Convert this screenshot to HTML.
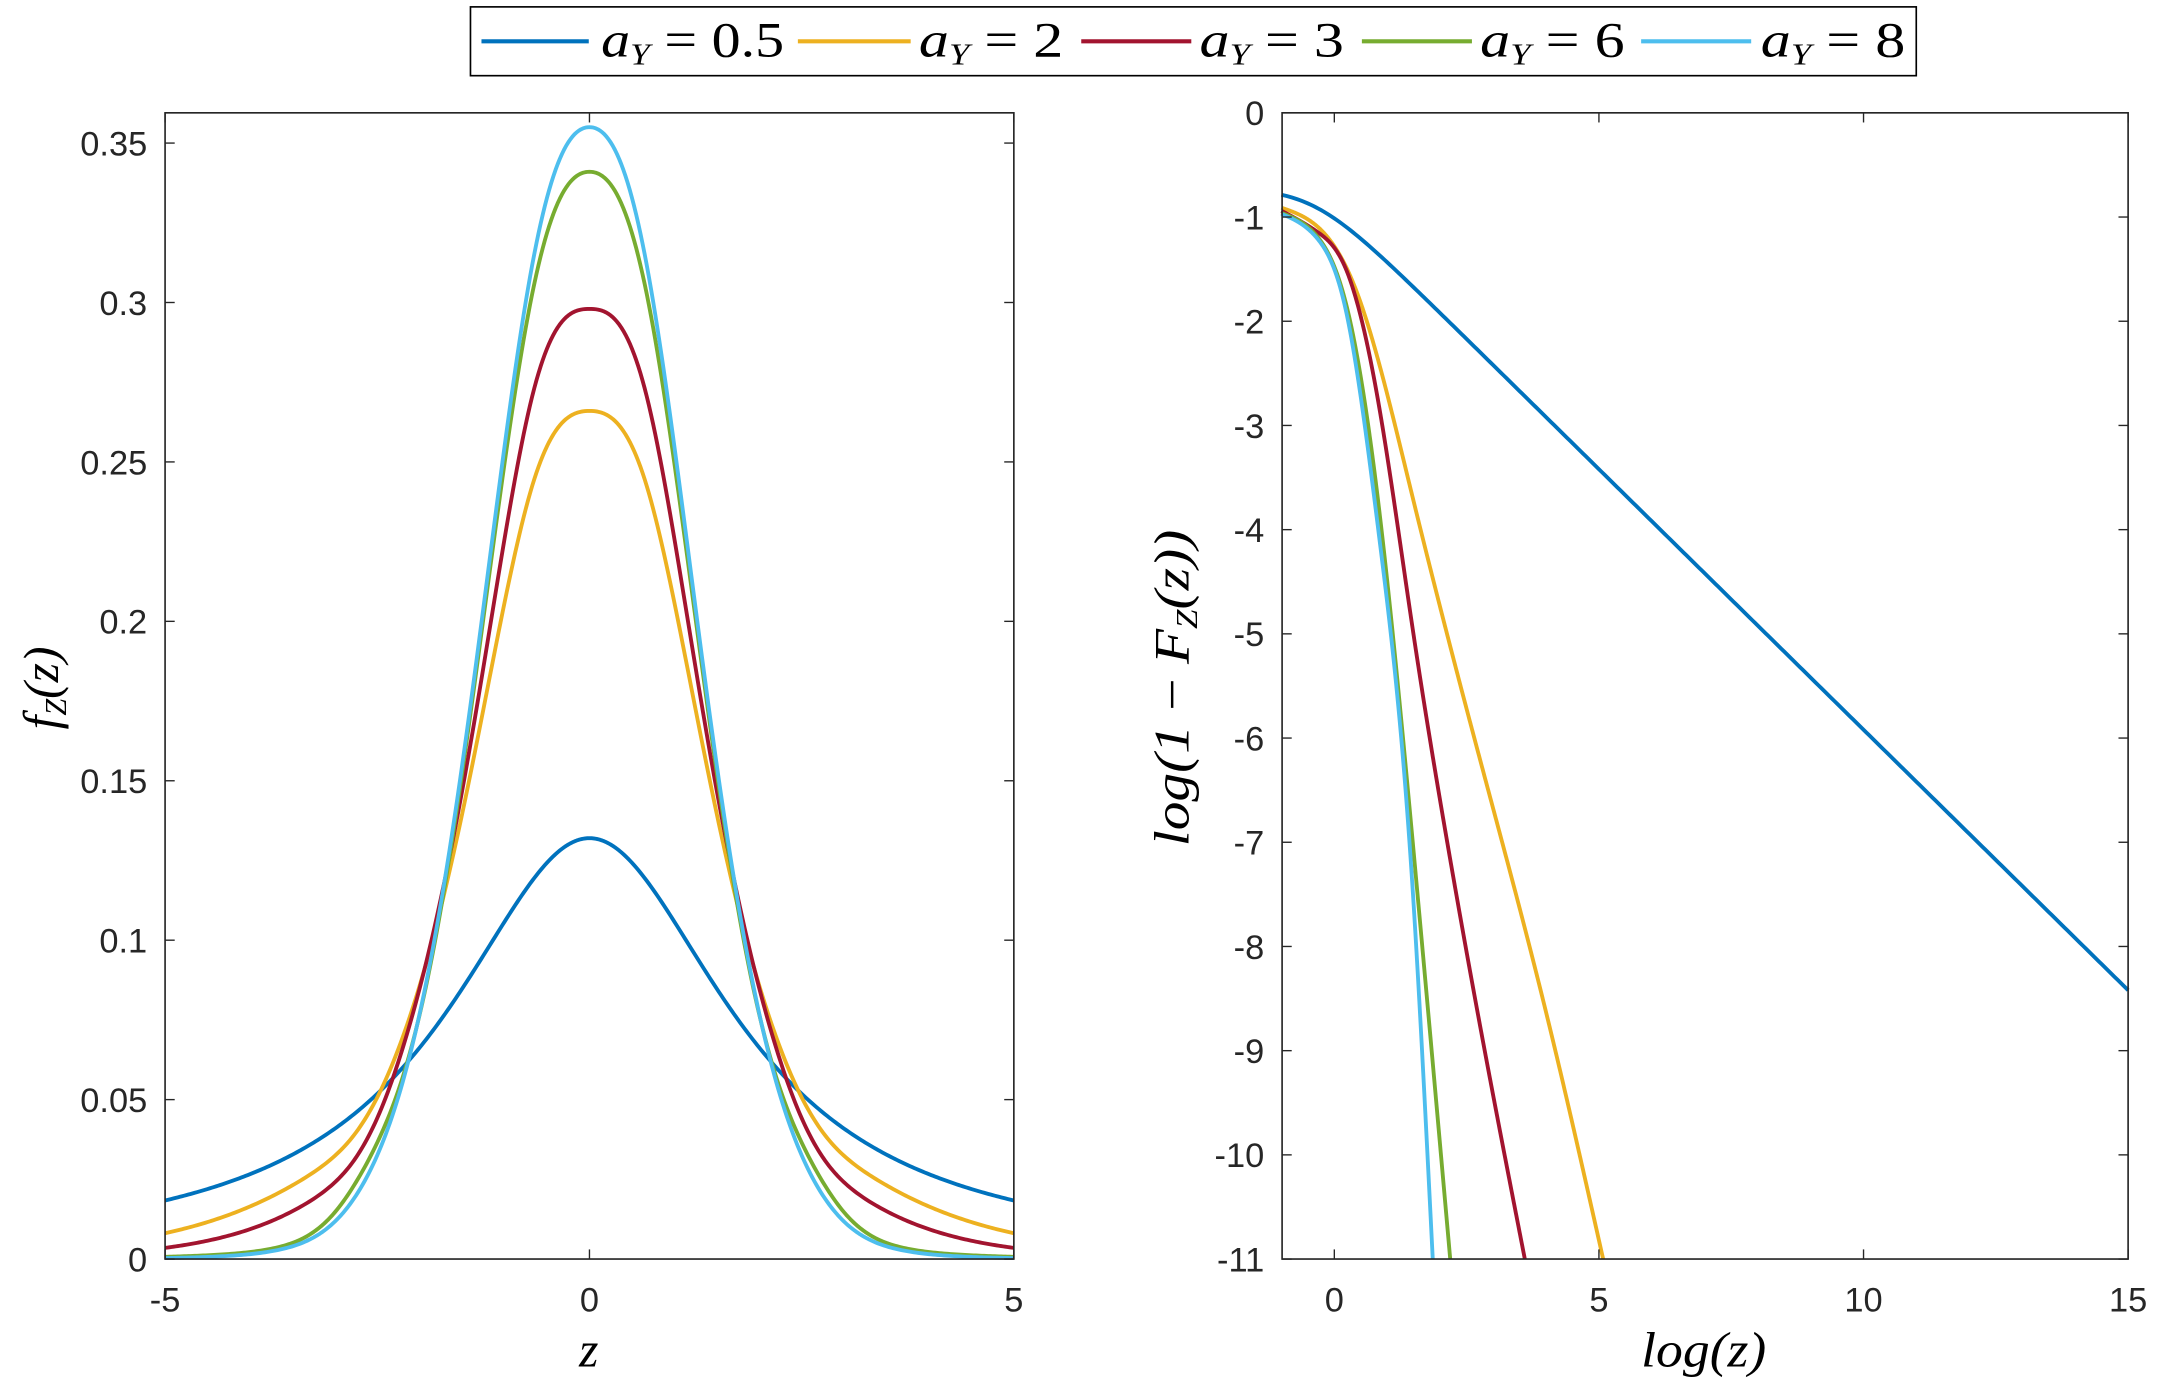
<!DOCTYPE html>
<html><head><meta charset="utf-8"><style>
html,body{margin:0;padding:0;background:#fff;overflow:hidden}
svg{display:block}
.t{font-family:"Liberation Sans",sans-serif;font-size:25px;fill:#262626}
.m{font-family:"Liberation Serif",serif;font-style:italic;font-size:36px;fill:#000}
</style></head><body>
<svg id="s" width="2157" height="1387" viewBox="0 0 1568 1008" preserveAspectRatio="none" xmlns="http://www.w3.org/2000/svg">
<rect width="1568" height="1008" fill="#fff"/>
<g id="g"></g>
<rect x="342" y="5" width="1051" height="50" fill="#fff" stroke="#000" stroke-width="1.2"/>
<line x1="350" y1="30" x2="428" y2="30" stroke="#0072BD" stroke-width="3"/>
<text x="437" y="41" class="m" textLength="133" lengthAdjust="spacingAndGlyphs">a<tspan font-size="22" dy="6">Y</tspan><tspan dy="-6" font-style="normal"> = 0.5</tspan></text>
<line x1="580" y1="30" x2="662" y2="30" stroke="#EDB120" stroke-width="3"/>
<text x="668" y="41" class="m" textLength="105" lengthAdjust="spacingAndGlyphs">a<tspan font-size="22" dy="6">Y</tspan><tspan dy="-6" font-style="normal"> = 2</tspan></text>
<line x1="786" y1="30" x2="866" y2="30" stroke="#A2142F" stroke-width="3"/>
<text x="872" y="41" class="m" textLength="105" lengthAdjust="spacingAndGlyphs">a<tspan font-size="22" dy="6">Y</tspan><tspan dy="-6" font-style="normal"> = 3</tspan></text>
<line x1="990" y1="30" x2="1070" y2="30" stroke="#77AC30" stroke-width="3"/>
<text x="1076" y="41" class="m" textLength="105" lengthAdjust="spacingAndGlyphs">a<tspan font-size="22" dy="6">Y</tspan><tspan dy="-6" font-style="normal"> = 6</tspan></text>
<line x1="1193" y1="30" x2="1273" y2="30" stroke="#4DBEEE" stroke-width="3"/>
<text x="1280" y="41" class="m" textLength="105" lengthAdjust="spacingAndGlyphs">a<tspan font-size="22" dy="6">Y</tspan><tspan dy="-6" font-style="normal"> = 8</tspan></text>
<text x="428" y="993" class="m" text-anchor="middle">z</text>
<text x="1193" y="993" class="m" textLength="91" lengthAdjust="spacingAndGlyphs">log(z)</text>
<text transform="translate(42,500) rotate(-90)" class="m" text-anchor="middle">f<tspan font-size="22" dy="6">Z</tspan><tspan dy="-6">(z)</tspan></text>
<text transform="translate(864,615) rotate(-90)" class="m" textLength="230" lengthAdjust="spacingAndGlyphs">log(1 <tspan font-style="normal">−</tspan> F<tspan font-size="22" dy="6">Z</tspan><tspan dy="-6">(z))</tspan></text>
</svg>
<script>
var g=document.getElementById('g'),NS='http://www.w3.org/2000/svg';
function el(n,a,txt){var e=document.createElementNS(NS,n);for(var k in a)e.setAttribute(k,a[k]);if(txt!=null)e.textContent=txt;g.appendChild(e);return e;}
var cols=['#0072BD','#EDB120','#A2142F','#77AC30','#4DBEEE'];
function spline(xs,ys){var n=xs.length,h=[],al=[],l=[1],mu=[0],z=[0],c=[],b=[],d=[];
 for(var i=0;i<n-1;i++)h.push(xs[i+1]-xs[i]);
 for(i=1;i<n-1;i++)al[i]=3/h[i]*(ys[i+1]-ys[i])-3/h[i-1]*(ys[i]-ys[i-1]);
 for(i=1;i<n-1;i++){l[i]=2*(xs[i+1]-xs[i-1])-h[i-1]*mu[i-1];mu[i]=h[i]/l[i];z[i]=(al[i]-h[i-1]*z[i-1])/l[i];}
 c[n-1]=0;for(var j=n-2;j>=0;j--){c[j]=z[j]-mu[j]*c[j+1];b[j]=(ys[j+1]-ys[j])/h[j]-h[j]*(c[j+1]+2*c[j])/3;d[j]=(c[j+1]-c[j])/(3*h[j]);}
 return function(x){var i=0;while(i<n-2&&x>xs[i+1])i++;var t=x-xs[i];return ys[i]+b[i]*t+c[i]*t*t+d[i]*t*t*t;};}
function lx(z){return 120+(z+5)*61.7;}
function ly(v){return 915-v*2317.2;}
var zs=[0,0.68,1.465,2.25,2.8,3.43,5];
var data=[null,
 [0.266,0.242,0.144,0.066,0.038,0.0242,0.0081],
 [0.298,0.270,0.152,0.062,0.030,0.016,0.0035],
 [0.341,0.302,0.159,0.053,0.022,0.0058,0.0007],
 [0.355,0.311,0.1615,0.051,0.018,0.0046,0.0003]];
for(var c=0;c<5;c++){var f;
 if(c==0)f=function(z){return 0.132/(1+z*z/4.04);};
 else{(function(c){var xs=[],ys=[];for(var k=zs.length-1;k>0;k--){xs.push(-zs[k]);ys.push(Math.log(data[c][k]));}
  for(k=0;k<zs.length;k++){xs.push(zs[k]);ys.push(Math.log(data[c][k]));}
  var s=spline(xs,ys);f=function(z){return Math.exp(s(z));};})(c);}
 var d='';for(var z=-5;z<=5.0001;z+=0.025){var v=Math.max(0,f(z));d+=(d?'L':'M')+lx(z).toFixed(2)+','+ly(v).toFixed(2);}
 el('path',{d:d,fill:'none',stroke:cols[c],'stroke-width':2.8,'stroke-linejoin':'round'});}
function rx(x){return 931.5+(x+1)*38.47;}
function ry(y){return 82-y*75.73;}
function sp(x,k,x0){return Math.log(1+Math.exp(k*(x-x0)))/k;}
(function(){var d='';for(var x=-1;x<=15.0001;x+=0.05){var y=-0.72-0.5*sp(x,2,-0.4);d+=(d?'L':'M')+rx(x).toFixed(2)+','+ry(y).toFixed(2);}el('path',{d:d,fill:'none',stroke:cols[0],'stroke-width':2.8});})();
var rd=[
 [1,[-1,-0.3,0.41,1.48,2.75,4.01,5.08],[-0.91,-1.1,-1.70,-3.69,-6.20,-8.65,-11]],
 [2,[-1,-0.3,0.22,0.85,1.48,2.11,2.75,3.6],[-0.94,-1.15,-1.5,-2.83,-4.95,-6.93,-8.75,-11]],
 [3,[-1,-0.3,0.22,0.85,1.48,2.19],[-0.96,-1.2,-1.83,-3.82,-6.99,-11]],
 [4,[-1,-0.3,0.22,0.85,1.48,1.86],[-0.97,-1.22,-1.9,-4.08,-7.45,-11]]];
rd.forEach(function(r){var s=spline(r[1],r[2]),xe=r[1][r[1].length-1],d='';
 for(var x=-1;x<=xe+0.0001;x+=0.01){var y=s(x);if(y<-11)y=-11;d+=(d?'L':'M')+rx(x).toFixed(2)+','+ry(y).toFixed(2);}
 el('path',{d:d,fill:'none',stroke:cols[r[0]],'stroke-width':2.8,'stroke-linejoin':'round'});});
function frame(x0,y0,x1,y1){el('rect',{x:x0,y:y0,width:x1-x0,height:y1-y0,fill:'none',stroke:'#262626','stroke-width':1.2});}
frame(120,82,737,915);frame(932,82,1547,915);
var T=7;
for(var i=0;i<=7;i++){var v=i*0.05,y=ly(v);el('line',{x1:120,y1:y,x2:120+T,y2:y,stroke:'#262626'});el('line',{x1:737,y1:y,x2:737-T,y2:y,stroke:'#262626'});
 el('text',{x:107,y:y+9,'class':'t','text-anchor':'end'},i==0?'0':(v.toFixed(2).replace(/0$/,'')));}
[-5,0,5].forEach(function(z){var x=lx(z);el('line',{x1:x,y1:915,x2:x,y2:915-T,stroke:'#262626'});el('line',{x1:x,y1:82,x2:x,y2:82+T,stroke:'#262626'});el('text',{x:x,y:953,'class':'t','text-anchor':'middle'},String(z));});
for(var j=0;j>=-11;j--){var y=ry(j);el('line',{x1:932,y1:y,x2:932+T,y2:y,stroke:'#262626'});el('line',{x1:1547,y1:y,x2:1547-T,y2:y,stroke:'#262626'});el('text',{x:919,y:y+9,'class':'t','text-anchor':'end'},String(j));}
[0,5,10,15].forEach(function(v){var x=rx(v);el('line',{x1:x,y1:915,x2:x,y2:915-T,stroke:'#262626'});el('line',{x1:x,y1:82,x2:x,y2:82+T,stroke:'#262626'});el('text',{x:x,y:953,'class':'t','text-anchor':'middle'},String(v));});
</script>
</body></html>
